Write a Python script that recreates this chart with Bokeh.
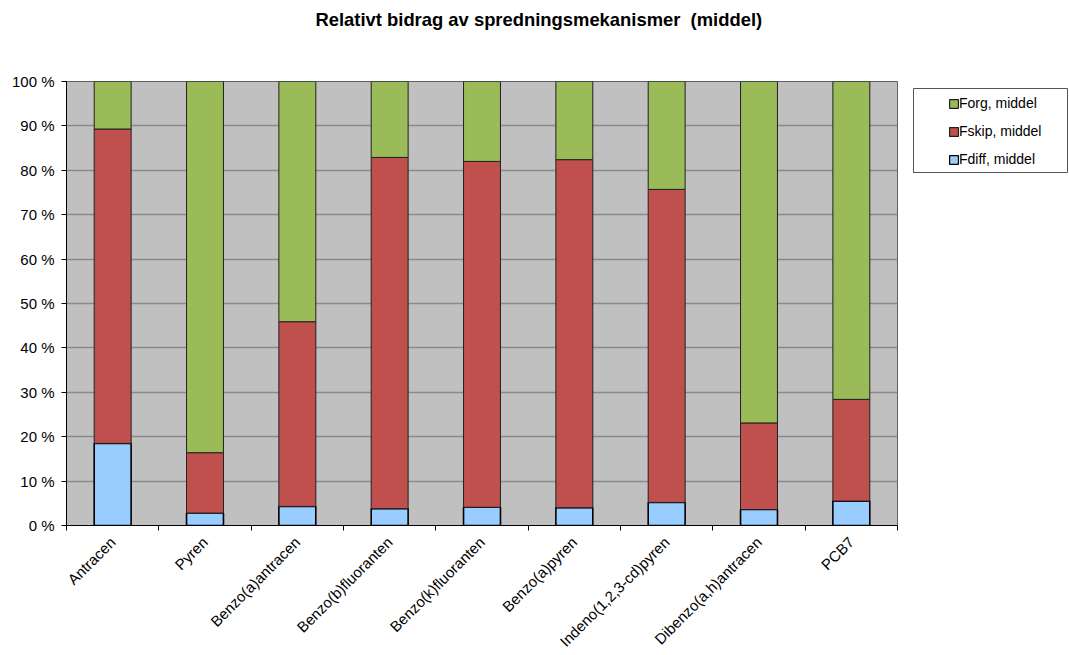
import math
from bokeh.plotting import figure
from bokeh.layouts import row
from bokeh.models import (ColumnDataSource, FixedTicker, Legend, LegendItem, Range1d, Title)
from bokeh.embed import file_html
from bokeh.resources import INLINE

categories = ["Antracen", "Pyren", "Benzo(a)antracen", "Benzo(b)fluoranten",
              "Benzo(k)fluoranten", "Benzo(a)pyren", "Indeno(1,2,3-cd)pyren",
              "Dibenzo(a,h)antracen", "PCB7"]
fdiff = [18.5, 2.8, 4.3, 3.8, 4.1, 4.0, 5.2, 3.6, 5.5]
fskip = [70.8, 13.6, 41.6, 79.1, 77.9, 78.4, 70.5, 19.5, 22.9]
forg = [10.7, 83.6, 54.1, 17.1, 18.0, 17.6, 24.3, 76.9, 71.6]
y_ticks = [0, 10, 20, 30, 40, 50, 60, 70, 80, 90, 100]
y_tick_labels = ["0 %", "10 %", "20 %", "30 %", "40 %", "50 %", "60 %",
                 "70 %", "80 %", "90 %", "100 %"]
series_names = ["Fdiff, middel", "Fskip, middel", "Forg, middel"]
series_colors = ["#99CCFF", "#C0504D", "#9BBB59"]
series_lines = ["#000000", "#202020", "#202020"]
title_text = "Relativt bidrag av spredningsmekanismer\u00a0 (middel)"

FONT = "Liberation Sans"
xs = list(range(len(categories)))

src = ColumnDataSource(dict(x=xs, fdiff=fdiff, fskip=fskip, forg=forg))

p = figure(width=905, height=655, output_backend="svg", toolbar_location=None,
           x_range=Range1d(-0.5, len(categories) - 0.5), y_range=Range1d(0, 100),
           frame_width=831, frame_height=444, frame_align=False,
           min_border_left=66, min_border_top=81, min_border_right=8,
           min_border_bottom=130, background_fill_color="#C0C0C0",
           border_fill_color="white")
p.outline_line_color = "#606060"

renderers = p.vbar_stack(["fdiff", "fskip", "forg"], x="x", width=0.4, source=src,
                         fill_color=series_colors, line_color=series_lines,
                         line_width=[1.6, 1, 1])

p.title.text = title_text
p.title.align = "left"
p.title.offset = 249
p.title.standoff = 10
p.title.text_font = FONT
p.title.text_font_size = "18.4px"
p.title.text_font_style = "bold"
p.title.text_color = "black"
# spacer panel between title and plot frame
p.add_layout(Title(text=" ", text_font_size="1px", standoff=44), "above")

p.xgrid.visible = False
p.ygrid.grid_line_color = "#8A8A8A"
p.ygrid.grid_line_width = 1.3

p.yaxis.ticker = FixedTicker(ticks=y_ticks)
p.yaxis.major_label_overrides = {t: l for t, l in zip(y_ticks, y_tick_labels)}
p.yaxis.minor_tick_line_color = None
p.yaxis.major_tick_out = 5
p.yaxis.major_tick_in = 0
p.yaxis.major_label_standoff = 7
p.yaxis.axis_line_color = "black"
p.yaxis.major_tick_line_color = "black"

p.xaxis.ticker = FixedTicker(ticks=xs, minor_ticks=[i - 0.5 for i in range(len(categories) + 1)])
p.xaxis.major_label_overrides = {i: c for i, c in enumerate(categories)}
p.xaxis.major_tick_line_color = None
p.xaxis.minor_tick_line_color = "black"
p.xaxis.minor_tick_out = 5
p.xaxis.minor_tick_in = 0
p.xaxis.major_label_orientation = math.pi / 4
p.xaxis.major_label_standoff = 8
p.xaxis.axis_line_color = "black"

for ax in (p.xaxis, p.yaxis):
    ax.major_label_text_font = FONT
    ax.major_label_text_font_size = "15px"
    ax.major_label_text_color = "black"

# legend panel (separate small figure, framed like the reference legend box)
lg = figure(width=164, height=182, output_backend="svg", toolbar_location=None,
            x_range=Range1d(0, 1), y_range=Range1d(0, 1),
            frame_width=154, frame_height=84, frame_align=False,
            min_border_left=8, min_border_right=2, min_border_top=88,
            min_border_bottom=10, x_axis_type=None, y_axis_type=None,
            background_fill_color="white", border_fill_color="white")
lg.grid.visible = False
lg.outline_line_color = "#555555"
# proxy bars placed outside the visible range, only used for the legend swatches
proxy = ColumnDataSource(dict(x=[-5], top=[0]))
leg_r = [lg.vbar(x="x", top="top", width=0.1, source=proxy, fill_color=c,
                 line_color=l, line_width=1.2) for c, l in zip(series_colors, series_lines)]
items = [LegendItem(label=series_names[i], renderers=[leg_r[i]]) for i in (2, 1, 0)]
legend = Legend(items=items, location=(35, 5), margin=0, padding=0,
                border_line_alpha=0, background_fill_alpha=0,
                glyph_width=11, glyph_height=11, label_height=16, spacing=12,
                label_standoff=0, label_text_font=FONT, label_text_font_size="14px",
                label_text_color="black")
lg.add_layout(legend, "center")

layout = row(p, lg, spacing=0)
open("out.html", "w").write(file_html(layout, INLINE))
